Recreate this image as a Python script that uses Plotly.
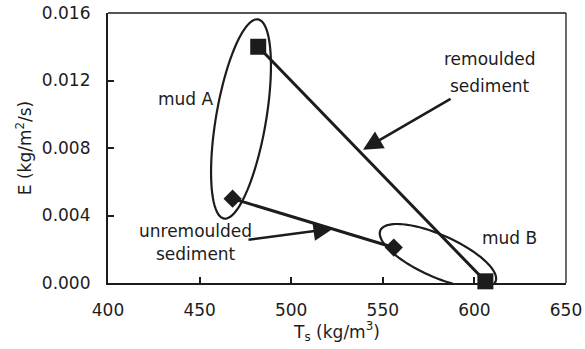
import numpy as np
import plotly.graph_objects as go

# Erosion rate E against bulk density Ts for two muds
remoulded_ts = [482, 606]
remoulded_e = [0.0140, 0.0001]
unremoulded_ts = [468, 556]
unremoulded_e = [0.0050, 0.0021]

x_ticks = [400, 450, 500, 550, 600, 650]
y_ticks = [0.000, 0.004, 0.008, 0.012, 0.016]

W, H = 585, 349
M = dict(l=108, r=19, t=13, b=66)
X_RANGE = [400, 650]
Y_RANGE = [0, 0.016]
PW = W - M["l"] - M["r"]
PH = H - M["t"] - M["b"]

INK = "#1c1c1c"
FONT = "DejaVu Sans"


def ellipse_path(cx, cy, a_px, b_px, angle_deg, n=120):
    """Closed SVG path of an ellipse sized in screen pixels (angle measured
    clockwise on screen) around a data-space centre."""
    sx = PW / (X_RANGE[1] - X_RANGE[0])
    sy = PH / (Y_RANGE[1] - Y_RANGE[0])
    t = np.linspace(0, 2 * np.pi, n)
    th = np.radians(angle_deg)
    dx = a_px * np.cos(t) * np.cos(th) - b_px * np.sin(t) * np.sin(th)
    dy = a_px * np.cos(t) * np.sin(th) + b_px * np.sin(t) * np.cos(th)
    xs = cx + dx / sx
    ys = cy - dy / sy
    pts = [f"{x:.4f},{y:.7f}" for x, y in zip(xs, ys)]
    return "M " + " L ".join(pts) + " Z"


fig = go.Figure()

fig.add_trace(go.Scatter(
    x=remoulded_ts, y=remoulded_e, mode="lines+markers",
    line=dict(color=INK, width=3),
    marker=dict(symbol="square", size=16, color=INK),
    cliponaxis=False, showlegend=False,
))
fig.add_trace(go.Scatter(
    x=unremoulded_ts, y=unremoulded_e, mode="lines+markers",
    line=dict(color=INK, width=3),
    marker=dict(symbol="diamond", size=14, color=INK),
    cliponaxis=False, showlegend=False,
))

# Groupings around each mud
fig.add_shape(type="path", xref="x", yref="y",
              path=ellipse_path(472.6, 0.00972, 101, 25, -80.3),
              line=dict(color=INK, width=2.2))
fig.add_shape(type="path", xref="x", yref="y",
              path=ellipse_path(580.1, 0.00160, 63, 21, 24),
              line=dict(color=INK, width=2.2))

# Thin frame on the top and right edges
fig.add_shape(type="line", xref="paper", yref="paper", x0=0, x1=1, y0=1, y1=1,
              line=dict(color=INK, width=1.3))
fig.add_shape(type="line", xref="paper", yref="paper", x0=1, x1=1, y0=0, y1=1,
              line=dict(color=INK, width=1.3))

labels = [
    ("mud A", 442.6, 0.0109),
    ("mud B", 618.9, 0.00267),
    ("remoulded", 608.5, 0.01327),
    ("sediment", 608.5, 0.01167),
    ("unremoulded", 447.5, 0.00308),
    ("sediment", 448.0, 0.00172),
]
for text, x, y in labels:
    fig.add_annotation(x=x, y=y, xref="x", yref="y", text=text, showarrow=False,
                       font=dict(family=FONT, size=17, color=INK))

arrows = [
    (587.8, 0.01096, 539.2, 0.00790),
    (475.9, 0.00255, 522.8, 0.00322),
]
for ax, ay, x, y in arrows:
    fig.add_annotation(x=x, y=y, ax=ax, ay=ay, xref="x", yref="y",
                       axref="x", ayref="y", text="", showarrow=True,
                       arrowhead=2, arrowsize=1.5, arrowwidth=2.6,
                       arrowcolor=INK, standoff=0)

axis_common = dict(
    showgrid=False, zeroline=False, showline=True, linecolor=INK, linewidth=2.2,
    mirror=False, ticks="inside", ticklen=6, tickwidth=1.5, tickcolor=INK,
    automargin=False,
    tickfont=dict(family=FONT, size=17, color=INK),
)
fig.update_xaxes(range=X_RANGE, tickvals=x_ticks, ticktext=[str(v) for v in x_ticks],
                 ticklabelstandoff=10,
                 title=dict(text="T<sub>s</sub> (kg/m<sup>3</sup>)", standoff=4,
                            font=dict(family=FONT, size=17, color=INK)),
                 **axis_common)
fig.update_yaxes(range=Y_RANGE, tickvals=y_ticks, ticktext=[f"{v:.3f}" for v in y_ticks],
                 ticklabelstandoff=12,
                 title=dict(text="E (kg/m<sup>2</sup>/s)", standoff=6,
                            font=dict(family=FONT, size=17, color=INK)),
                 **axis_common)

fig.update_layout(
    width=W, height=H, margin=M,
    paper_bgcolor="white", plot_bgcolor="white",
    font=dict(family=FONT, size=17, color=INK),
)

fig.write_html("out.html")
